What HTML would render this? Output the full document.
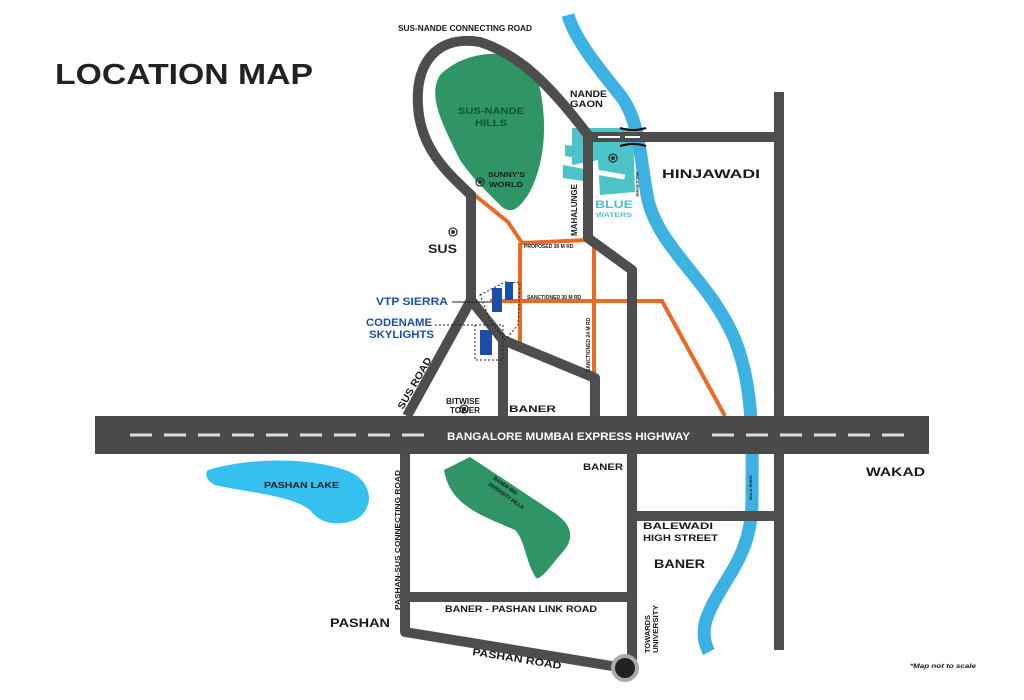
<!DOCTYPE html>
<html><head><meta charset="utf-8"><style>
html,body{margin:0;padding:0;background:#fff}
svg{display:block}
text{font-family:"Liberation Sans",sans-serif;font-weight:bold}
</style></head><body>
<svg width="1024" height="700" viewBox="0 0 1024 700" xmlns="http://www.w3.org/2000/svg">
<rect width="1024" height="700" fill="#fff"/>
<text x="55" y="84" font-size="29" fill="#222" textLength="258" lengthAdjust="spacingAndGlyphs">LOCATION MAP</text>

<path d="M440,75 C470,45 525,50 535,70 C548,110 548,160 528,195 C518,210 510,215 500,205 C480,185 470,175 460,160 C440,120 428,95 440,75 Z" fill="#2f9564"/>
<path d="M444,470 L470,457 C490,470 520,490 550,510 C575,525 575,540 560,555 C548,570 540,580 536,578 C525,560 525,540 515,530 C480,515 450,505 444,470 Z" fill="#2f9564"/>
<path d="M208,470 C240,460 300,455 345,470 C375,480 375,510 355,520 C335,527 320,523 310,510 C290,495 250,493 215,485 C205,480 205,473 208,470 Z" fill="#35c1ef"/>

<g fill="#4cc3c8">
<polygon points="572,128 633,128 635,192 600,195 598,160 572,165"/>
<polygon points="565,145 590,148 590,160 565,156"/>
<polygon points="563,165 590,170 590,182 563,178"/>
</g>
<rect x="595" y="172" width="30" height="5" fill="#fff" transform="rotate(10 610 174)"/>

<path d="M568,15 C575,40 600,70 620,95 C640,120 640,160 648,200 C660,250 710,280 735,340 C755,390 752,450 752,500 C752,560 720,580 706,620 C702,635 705,645 709,652" fill="none" stroke="#3cb2e3" stroke-width="13"/>

<g fill="none" stroke="#ea6a25" stroke-width="4">
<path d="M472,193 L508,222 L522,243 L588,240"/>
<path d="M520,243 L520,345"/>
<path d="M490,301 L662,301 L725,416"/>
<path d="M594,242 L594,378"/>
</g>

<g fill="none" stroke="#4d4d4d" stroke-width="10" stroke-linejoin="round">
<path d="M588,135 C550,85 520,55 480,42 C440,35 415,60 418,105 C420,150 450,175 471,195 L471,300 L407,416"/>
<path d="M471,300 L503,340 L503,416"/>
<path d="M503,340 L595,378 L595,416"/>
<path d="M588,135 L588,238 L632,270 L632,660"/>
<path d="M588,137 L780,137"/>
<path d="M779,92 L779,650"/>
<path d="M632,516 L779,516"/>
<path d="M405,454 L405,632 L624,668"/>
<path d="M405,597 L632,597"/>
</g>
<g stroke="#fff" stroke-width="2"><line x1="598" y1="137" x2="620" y2="137"/><line x1="625" y1="137" x2="640" y2="137"/></g>
<g stroke="#000" stroke-width="2" fill="none"><path d="M620,128 Q633,132 646,128"/><path d="M620,146 Q633,142 646,146"/></g>

<rect x="95" y="416" width="834" height="38" fill="#4a4a4a"/>
<g stroke="#ddd" stroke-width="3"><line x1="130" y1="435" x2="430" y2="435" stroke-dasharray="22,12"/><line x1="712" y1="435" x2="910" y2="435" stroke-dasharray="22,12"/></g>
<text x="447" y="440" font-size="11" fill="#fff" textLength="243" lengthAdjust="spacingAndGlyphs">BANGALORE MUMBAI EXPRESS HIGHWAY</text>

<path d="M480,295 L505,282 L520,283 L518,325 L505,340 L490,320 Z" fill="none" stroke="#222" stroke-width="1" stroke-dasharray="2,2"/>
<rect x="475" y="325" width="28" height="35" fill="none" stroke="#222" stroke-width="1" stroke-dasharray="2,2"/>
<g fill="#1b4ea8"><rect x="492" y="288" width="10" height="24"/><rect x="505" y="282" width="8" height="18"/><rect x="480" y="330" width="12" height="25"/></g>
<line x1="452" y1="302" x2="490" y2="302" stroke="#222" stroke-width="1"/>
<line x1="435" y1="325" x2="475" y2="325" stroke="#222" stroke-width="1" stroke-dasharray="2,2"/>

<g fill="none" stroke="#333" stroke-width="1.3"><circle cx="480" cy="182" r="4"/><circle cx="453" cy="232" r="4"/><circle cx="613" cy="158" r="4"/><circle cx="464" cy="409" r="4"/></g>
<g fill="#333"><circle cx="480" cy="182" r="2"/><circle cx="453" cy="232" r="2"/><circle cx="613" cy="158" r="2"/><circle cx="464" cy="409" r="2"/></g>
<circle cx="625" cy="668" r="12" fill="#222" stroke="#aaa" stroke-width="4"/>

<g fill="#1a1a1a">
<text x="398" y="31" font-size="8" textLength="134" lengthAdjust="spacingAndGlyphs">SUS-NANDE CONNECTING ROAD</text>
<text x="570" y="97" font-size="9" textLength="37" lengthAdjust="spacingAndGlyphs">NANDE</text><text x="570" y="107" font-size="9" textLength="33" lengthAdjust="spacingAndGlyphs">GAON</text>
<text x="458" y="114" font-size="9" fill="#153" textLength="66" lengthAdjust="spacingAndGlyphs">SUS-NANDE</text><text x="475" y="126" font-size="9" fill="#153" textLength="32" lengthAdjust="spacingAndGlyphs">HILLS</text>
<text x="488" y="177" font-size="7" textLength="37" lengthAdjust="spacingAndGlyphs">SUNNY'S</text><text x="489" y="187" font-size="7" textLength="34" lengthAdjust="spacingAndGlyphs">WORLD</text>
<text x="428" y="253" font-size="12" textLength="29" lengthAdjust="spacingAndGlyphs">SUS</text>
<text x="662" y="178" font-size="12" textLength="98" lengthAdjust="spacingAndGlyphs">HINJAWADI</text>
<text x="524" y="248" font-size="5">PROPOSED 30 M RD</text>
<text x="527" y="299" font-size="5">SANCTIONED 30 M RD</text>
<text x="509" y="412" font-size="9" textLength="47" lengthAdjust="spacingAndGlyphs">BANER</text>
<text x="446" y="404" font-size="8" textLength="34" lengthAdjust="spacingAndGlyphs">BITWISE</text><text x="450" y="413" font-size="8" textLength="30" lengthAdjust="spacingAndGlyphs">TOWER</text>
<text x="866" y="476" font-size="12" textLength="59" lengthAdjust="spacingAndGlyphs">WAKAD</text>
<text x="583" y="470" font-size="9" textLength="40" lengthAdjust="spacingAndGlyphs">BANER</text>
<text x="264" y="488" font-size="8" textLength="75" lengthAdjust="spacingAndGlyphs">PASHAN LAKE</text>
<text x="643" y="529" font-size="9" textLength="70" lengthAdjust="spacingAndGlyphs">BALEWADI</text><text x="643" y="541" font-size="9" textLength="75" lengthAdjust="spacingAndGlyphs">HIGH STREET</text>
<text x="654" y="568" font-size="12" textLength="51" lengthAdjust="spacingAndGlyphs">BANER</text>
<text x="445" y="612" font-size="9" textLength="152" lengthAdjust="spacingAndGlyphs">BANER - PASHAN LINK ROAD</text>
<text x="330" y="627" font-size="12" textLength="60" lengthAdjust="spacingAndGlyphs">PASHAN</text>
<text x="910" y="668" font-size="6" font-weight="normal" font-style="italic" textLength="66" lengthAdjust="spacingAndGlyphs">*Map not to scale</text>
<text transform="translate(472,655) rotate(9)" font-size="10" textLength="90" lengthAdjust="spacingAndGlyphs">PASHAN ROAD</text>
<text transform="translate(577,236) rotate(-90)" font-size="8">MAHALUNGE</text>
<text transform="translate(590,372) rotate(-90)" font-size="5">SANCTIONED 24 M RD</text>
<text transform="translate(400,610) rotate(-90)" font-size="7" textLength="140" lengthAdjust="spacingAndGlyphs">PASHAN-SUS CONNECTING ROAD</text>
<text transform="translate(650,653) rotate(-90)" font-size="7" textLength="38" lengthAdjust="spacingAndGlyphs">TOWARDS</text>
<text transform="translate(658,653) rotate(-90)" font-size="7" textLength="48" lengthAdjust="spacingAndGlyphs">UNIVERSITY</text>
<text transform="translate(403,410) rotate(-60)" font-size="10" textLength="58" lengthAdjust="spacingAndGlyphs">SUS ROAD</text>
<text transform="translate(493,479) rotate(35)" font-size="5" fill="#111">BANER BIO</text>
<text transform="translate(488,485) rotate(35)" font-size="5" fill="#111">DIVERSITY HILLS</text>
<text transform="translate(636,172) rotate(90)" font-size="4">MULA RIVER</text>
<text transform="translate(752,500) rotate(-90)" font-size="4">MULA RIVER</text>
</g>
<text x="595" y="208" font-size="11" fill="#4cc3c8" textLength="38" lengthAdjust="spacingAndGlyphs">BLUE</text>
<text x="596" y="217" font-size="6" fill="#4cc3c8" textLength="36" lengthAdjust="spacingAndGlyphs">WATERS</text>
<text x="376" y="305" font-size="11" fill="#1b4ea8" textLength="72" lengthAdjust="spacingAndGlyphs">VTP SIERRA</text>
<text x="366" y="326" font-size="11" fill="#1b4ea8" textLength="66" lengthAdjust="spacingAndGlyphs">CODENAME</text>
<text x="369" y="338" font-size="11" fill="#1b4ea8" textLength="65" lengthAdjust="spacingAndGlyphs">SKYLIGHTS</text>
</svg>
</body></html>
